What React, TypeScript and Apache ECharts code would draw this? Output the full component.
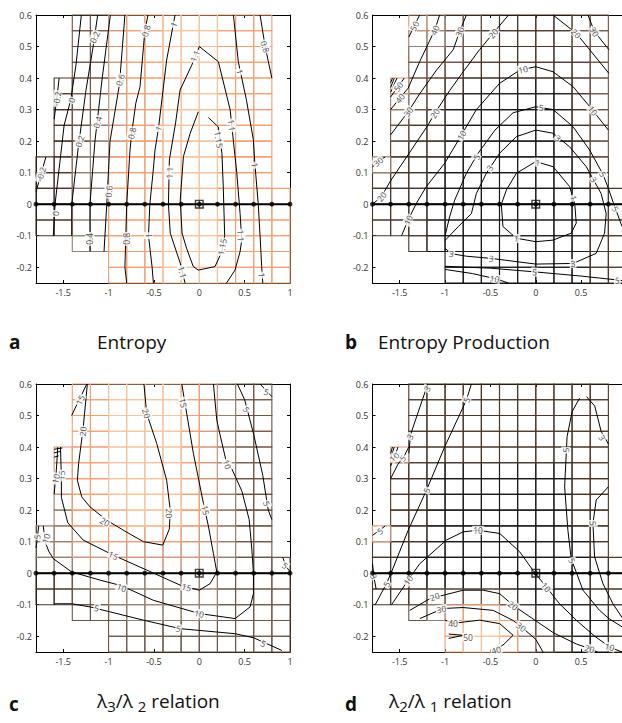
import React, { useEffect, useRef } from "react";
import * as echarts from "echarts";

// ---------- axes ----------
const X_MIN = -1.8;
const X_MAX = 1.0;
const Y_MIN = -0.25;
const Y_MAX = 0.6;
const X_TICKS = [-1.5, -1, -0.5, 0, 0.5, 1];
const X_LABELS_LEFT = [-1.5, -1, -0.5, 0, 0.5, 1];
const X_LABELS_RIGHT = [-1.5, -1, -0.5, 0, 0.5];
const Y_TICKS = [-0.2, -0.1, 0, 0.1, 0.2, 0.3, 0.4, 0.5, 0.6];
const CELL_W = 0.2;
const CELL_H = 0.05;
const NODE_X = [-1.8, -1.6, -1.4, -1.2, -1.0, -0.8, -0.6, -0.4, -0.2, 0, 0.2, 0.4, 0.6, 0.8, 1.0];
const CENTER_NODE = [0, 0];

// grid-line colour levels (dark -> light orange)
const LINE_COLORS = ["#1a1a1a", "#4a3528", "#6e5445", "#97806f", "#d2987a", "#f2a070", "#f7c29c"];

// cell colour levels, rows from y=0.6 downward, columns from x=-1.8 rightward ('.' = no cell)
const CELLS_A = [
  "..22455666555.", "..22455666555.", "..22455666555.", "..22455666555.",
  ".122455666555.", ".122455666555.", ".122455666555.",
  ".123455666555.", ".123455666555.",
  "1133555666555.", "1133555666555.",
  "11335556665555", "11335556665555", "11335556665555",
  "..335556665555", "....5556665555", "....5556665555",
];
const CELLS_B = [
  "..43221111122.", "..33221111122.", "..22211111112.", "..22111111112.",
  ".421100000012.", ".321000000012.", ".211000000012.", ".211000000012.", ".111000000012.",
  "3110000000001.", "1110000000001.",
  "11100000000011", "11100000000011", "11100000000011",
  "..100000000011", "....0000000011", "....0000000011",
];
const CELLS_C = [
  "..55666654322.", "..55666654322.", "..55666654322.", "..55666654322.",
  ".455666654322.", ".455666654322.", ".455666654322.",
  ".355666654322.", ".355566654322.",
  "3345555544322.", "3344444444322.",
  "33344444433222", "11233333332222", "11223333332222",
  "..222333332222", "....2222222222", "....2222222222",
];
const CELLS_D = [
  "..11111111111.", "..11111111111.", "..11111111111.", "..11111111111.",
  ".411111111111.", ".110000000011.", ".110000000011.", ".110000000011.", ".110000000011.",
  "4110000000001.", "1100000000001.",
  "11000000000011", "11000000000011", "11122221000011",
  "..234552100001", "....5665210001", "....5665321001",
];

// ---------- panel a: Entropy ----------
const A_M02_1 = [[-1.8, 0.04], [-1.75, 0.09], [-1.69, 0.15]];
const A_M02_2 = [[-1.6, 0.27], [-1.57, 0.335], [-1.545, 0.4]];
const A_0 = [[-1.609, -0.1], [-1.59, 0.0], [-1.53, 0.15], [-1.49, 0.25], [-1.418, 0.33], [-1.36, 0.44], [-1.3, 0.6]];
const A_02 = [[-1.406, -0.1], [-1.406, 0.0], [-1.334, 0.18], [-1.25, 0.36], [-1.17, 0.5], [-1.12, 0.6]];
const A_04 = [[-1.205, -0.15], [-1.205, 0.0], [-1.15, 0.2], [-1.07, 0.4], [-0.98, 0.6]];
const A_06 = [[-1.05, -0.15], [-1.02, 0.0], [-0.984, 0.2], [-0.88, 0.38], [-0.82, 0.6]];
const A_08 = [[-0.8, -0.25], [-0.82, -0.2], [-0.8, 0.0], [-0.764, 0.17], [-0.745, 0.225], [-0.7, 0.32], [-0.653, 0.373], [-0.6, 0.55], [-0.565, 0.6]];
const A_1L = [[-0.506, -0.25], [-0.52, -0.2], [-0.56, -0.1], [-0.545, 0], [-0.51, 0.1], [-0.488, 0.172], [-0.45, 0.24], [-0.36, 0.457], [-0.267, 0.6]];
const A_1R = [[0.376, 0.6], [0.43, 0.452], [0.52, 0.33], [0.596, 0.204], [0.614, 0.124], [0.65, 0.0], [0.67, -0.1], [0.688, -0.198], [0.7, -0.25]];
const A_08R = [[0.67, 0.6], [0.726, 0.5], [0.8, 0.4]];
const A_11 = [[0.3, -0.25], [0.394, -0.209], [0.45, -0.15], [0.468, -0.114], [0.45, -0.03], [0.413, 0.1], [0.376, 0.2], [0.34, 0.3], [0.21, 0.452], [0.0, 0.5], [-0.083, 0.441], [-0.212, 0.362], [-0.26, 0.26], [-0.33, 0.14], [-0.34, 0.0], [-0.32, -0.092], [-0.21, -0.187], [-0.157, -0.25]];
const A_115 = [[0.1, 0.275], [0.21, 0.245], [0.25, 0.16], [0.265, 0.05], [0.28, -0.1], [0.25, -0.15], [0.173, -0.198], [-0.011, -0.209], [-0.066, -0.198], [-0.14, -0.14], [-0.19, -0.092], [-0.21, 0.013], [-0.175, 0.151], [-0.1, 0.225], [-0.011, 0.293]];
const A_LINES = [A_M02_1, A_M02_2, A_0, A_02, A_04, A_06, A_08, A_1L, A_1R, A_08R, A_11, A_115];
const A_LABELS: [string, number, number, number][] = [
  ["-0.2", -1.745, 0.095, 74], ["-0.2", -1.57, 0.335, 80],
  ["0", -1.585, -0.03, 85], ["0", -1.41, 0.33, 72],
  ["0.2", -1.32, 0.2, 72], ["0.2", -1.155, 0.53, 66],
  ["0.4", -1.205, -0.11, 90], ["0.4", -1.125, 0.26, 75],
  ["0.6", -1.0, 0.04, 85], ["0.6", -0.874, 0.394, 75],
  ["0.8", -0.8, -0.11, 90], ["0.8", -0.745, 0.225, 76], ["0.8", -0.59, 0.55, 76],
  ["1", -0.45, 0.24, 70], ["1", -0.56, -0.1, 88], ["1", -0.285, 0.57, 66],
  ["1", 0.45, 0.42, -75], ["1", 0.614, 0.124, -80], ["1", 0.69, -0.225, -85],
  ["0.8", 0.726, 0.5, -72],
  ["1.1", -0.05, 0.47, 68], ["1.1", 0.358, 0.25, -84], ["1.1", -0.33, 0.1, 88], ["1.1", 0.46, -0.1, -88], ["1.1", -0.185, -0.215, -76],
  ["1.15", 0.215, 0.205, -80], ["1.15", 0.25, -0.135, 78],
];

// ---------- panel b: Entropy Production ----------
const B_50A = [[-1.6, 0.34], [-1.517, 0.373], [-1.45, 0.4]];
const B_50B = [[-1.4, 0.53], [-1.28, 0.6]];
const B_H1 = [[-1.6, 0.355], [-1.53, 0.4]];
const B_H2 = [[-1.6, 0.37], [-1.56, 0.4]];
const B_H3 = [[-1.6, 0.385], [-1.58, 0.4]];
const B_40 = [[-1.6, 0.3], [-1.5, 0.336], [-1.407, 0.368], [-1.28, 0.452], [-1.114, 0.552], [-1.06, 0.6]];
const B_30A = [[-1.8, 0.118], [-1.738, 0.135], [-1.66, 0.15]];
const B_30B = [[-1.6, 0.22], [-1.407, 0.293], [-1.28, 0.35], [-1.095, 0.425], [-0.91, 0.49], [-0.84, 0.547], [-0.765, 0.6]];
const B_20 = [[-1.8, 0.0], [-1.7, 0.024], [-1.61, 0.07], [-1.4, 0.16], [-1.19, 0.25], [-1.114, 0.288], [-0.95, 0.36], [-0.8, 0.42], [-0.62, 0.49], [-0.47, 0.542], [-0.3, 0.6]];
const B_20R = [[0.19, 0.6], [0.446, 0.542], [0.806, 0.415]];
const B_30R = [[0.574, 0.6], [0.648, 0.547], [0.806, 0.49]];
const B_10 = [[-1.48, -0.1], [-1.407, -0.05], [-1.316, 0.003], [-1.206, 0.056], [-1.004, 0.13], [-0.82, 0.219], [-0.655, 0.3], [-0.4, 0.383], [-0.178, 0.425], [0, 0.436], [0.19, 0.42], [0.41, 0.373], [0.593, 0.31], [0.8, 0.235]];
const B_5 = [[-1.0, -0.1], [-0.95, -0.04], [-0.894, 0.013], [-0.765, 0.098], [-0.637, 0.161], [-0.45, 0.235], [-0.25, 0.29], [0, 0.309], [0.19, 0.3], [0.41, 0.246], [0.593, 0.172], [0.74, 0.095], [0.8, 0.05], [0.86, 0.0], [0.95, -0.07], [1.0, -0.1]];
const B_3 = [[-1.0, -0.115], [-0.85, -0.07], [-0.71, -0.03], [-0.655, 0.034], [-0.545, 0.098], [-0.4, 0.161], [-0.215, 0.214], [0, 0.235], [0.19, 0.225], [0.373, 0.182], [0.556, 0.119], [0.72, 0.034], [0.776, -0.03], [0.758, -0.092], [0.666, -0.156], [0.41, -0.188], [0, -0.19], [-0.49, -0.172], [-0.765, -0.165], [-0.93, -0.157], [-1.0, -0.14]];
const B_1 = [[0, 0.135], [0.19, 0.119], [0.373, 0.056], [0.43, 0.0], [0.446, -0.06], [0.39, -0.092], [0.19, -0.114], [0, -0.119], [-0.214, -0.108], [-0.362, -0.071], [-0.38, 0], [-0.324, 0.045], [-0.214, 0.098], [0, 0.135]];
const B_5BOT = [[-1.0, -0.197], [-0.5, -0.203], [0, -0.215], [0.5, -0.228], [0.887, -0.24], [1.0, -0.244]];
const B_10BOT = [[-1.0, -0.207], [-0.7, -0.22], [-0.45, -0.236], [-0.3, -0.25]];
const B_LINES = [B_50A, B_50B, B_H1, B_H2, B_H3, B_40, B_30A, B_30B, B_20, B_20R, B_30R, B_10, B_5, B_3, B_1, B_5BOT, B_10BOT];
const B_LABELS: [string, number, number, number][] = [
  ["50", -1.517, 0.373, 54], ["50", -1.34, 0.565, 64],
  ["40", -1.5, 0.336, 51], ["40", -1.114, 0.552, 67],
  ["30", -1.738, 0.135, 38], ["30", -1.407, 0.293, 55], ["30", -0.84, 0.547, 69],
  ["20", -1.7, 0.024, 52], ["20", -1.114, 0.288, 58], ["20", -0.47, 0.542, 50],
  ["20", 0.446, 0.542, -46], ["30", 0.648, 0.547, -59],
  ["10", -1.407, -0.05, 65], ["10", -0.82, 0.219, 59], ["10", -0.14, 0.428, 12], ["10", 0.63, 0.297, -51],
  ["5", -0.655, 0.15, 60], ["5", 0.06, 0.307, -5], ["5", 0.74, 0.095, -64], ["5", 0.88, -0.015, -60],
  ["3", 0.245, 0.21, -39], ["3", -0.51, 0.115, 57], ["3", 0.64, 0.078, -58], ["3", 0.41, -0.188, 3], ["3", -0.49, -0.172, -7], ["3", -0.93, -0.157, -8],
  ["1", 0.02, 0.133, -5], ["1", 0.42, 0.02, -74], ["1", -0.214, -0.108, -10],
  ["5", -0.013, -0.215, -3], ["5", 0.9, -0.241, -3], ["10", -0.453, -0.236, -10],
];

// ---------- panel c: lambda3/lambda2 ----------
const C_15A = [[-1.407, 0.5], [-1.24, 0.6]];
const C_20 = [[-1.234, 0.6], [-1.28, 0.46], [-1.33, 0.348], [-1.344, 0.295], [-1.296, 0.242], [-1.204, 0.21], [-1.02, 0.168], [-0.8, 0.13], [-0.616, 0.1], [-0.403, 0.089], [-0.33, 0.14], [-0.32, 0.2], [-0.36, 0.295], [-0.47, 0.412], [-0.58, 0.507], [-0.61, 0.6]];
const C_15 = [[-1.53, 0.4], [-1.52, 0.3], [-1.52, 0.24], [-1.45, 0.16], [-1.28, 0.105], [-0.947, 0.057], [-0.58, 0.01], [-0.21, -0.038], [0, -0.054], [0.12, -0.033], [0.193, 0.004], [0.156, 0.062], [0.1, 0.15], [0.046, 0.221], [-0.065, 0.38], [-0.193, 0.6]];
const C_10 = [[-1.72, 0.15], [-1.7, 0.1], [-1.66, 0.07], [-1.609, 0.046], [-1.407, 0.004], [-1.094, -0.022], [-0.855, -0.04], [-0.506, -0.086], [0, -0.128], [0.395, -0.144], [0.56, -0.107], [0.597, -0.065], [0.597, 0.0], [0.58, 0.073], [0.55, 0.17], [0.47, 0.26], [0.36, 0.33], [0.3, 0.35], [0.22, 0.45], [0.193, 0.486], [0.156, 0.6]];
const C_10C1 = [[-1.6, 0.25], [-1.575, 0.33], [-1.56, 0.4]];
const C_H1 = [[-1.6, 0.393], [-1.51, 0.397]];
const C_H2 = [[-1.6, 0.382], [-1.53, 0.386]];
const C_H3 = [[-1.6, 0.368], [-1.55, 0.372]];
const C_5L = [[-1.77, 0.15], [-1.79, 0.1], [-1.8, 0.08]];
const C_5R = [[0.42, 0.6], [0.5, 0.55], [0.6, 0.44], [0.7, 0.31], [0.76, 0.2], [0.8, 0.17]];
const C_5TR = [[0.67, 0.6], [0.8, 0.56]];
const C_5E = [[0.92, 0.05], [0.96, 0.02], [1.0, 0.005]];
const C_5B = [[-1.6, -0.097], [-1.407, -0.097], [-1.204, -0.107], [-0.616, -0.149], [-0.21, -0.176], [0.395, -0.192], [0.6, -0.205], [0.91, -0.245]];
const C_LINES = [C_15A, C_20, C_15, C_10, C_10C1, C_H1, C_H2, C_H3, C_5L, C_5R, C_5TR, C_5E, C_5B];
const C_LABELS: [string, number, number, number][] = [
  ["15", -1.315, 0.55, 64],
  ["20", -1.285, 0.45, 84], ["20", -1.04, 0.163, -30], ["20", -0.33, 0.19, -88], ["20", -0.58, 0.507, -72],
  ["15", -0.947, 0.057, -25], ["15", -0.14, -0.044, -15], ["15", 0.07, 0.2, -79], ["15", -0.175, 0.54, -80], ["15", -1.52, 0.31, 88],
  ["10", -1.69, 0.11, 72], ["10", -1.585, 0.3, 75], ["10", -0.855, -0.045, -21], ["10", 0.0, -0.128, -12], ["10", 0.31, 0.345, -70],
  ["5", 0.52, 0.52, -60], ["5", 0.744, 0.221, -75], ["5", 0.74, 0.575, -20], ["5", 0.946, 0.025, -40],
  ["5", -1.13, -0.11, -14], ["5", -0.23, -0.175, -13], ["5", 0.707, -0.222, -24], ["5", -1.79, 0.115, 80],
];

// ---------- panel d: lambda2/lambda1 ----------
const D_5L = [[-1.77, -0.1], [-1.646, -0.033], [-1.59, 0.004], [-1.407, 0.136], [-1.205, 0.263], [-1.004, 0.401], [-0.765, 0.549], [-0.71, 0.6]];
const D_3A = [[-1.4, 0.38], [-1.38, 0.44], [-1.25, 0.55], [-1.19, 0.6]];
const D_C1_5 = [[-1.6, 0.3], [-1.52, 0.345], [-1.444, 0.375], [-1.4, 0.4]];
const D_C1_10 = [[-1.6, 0.34], [-1.554, 0.369], [-1.52, 0.4]];
const D_C1_H1 = [[-1.6, 0.365], [-1.56, 0.4]];
const D_C1_H2 = [[-1.6, 0.38], [-1.58, 0.4]];
const D_C0 = [[-1.8, 0.12], [-1.727, 0.135], [-1.66, 0.15]];
const D_3L = [[-1.8, 0.03], [-1.78, -0.02], [-1.76, -0.05]];
const D_10 = [[-1.59, -0.1], [-1.407, -0.022], [-1.279, 0.03], [-0.985, 0.105], [-0.8, 0.131], [-0.637, 0.136], [-0.398, 0.126], [-0.178, 0.068], [-0.031, 0.009], [0.116, -0.044], [0.262, -0.097], [0.45, -0.15], [0.65, -0.2], [0.813, -0.234], [0.95, -0.25]];
const D_20 = [[-1.389, -0.118], [-1.169, -0.081], [-0.8, -0.054], [-0.58, -0.054], [-0.398, -0.065], [-0.25, -0.102], [-0.031, -0.145], [0.2, -0.19], [0.45, -0.225], [0.593, -0.239], [0.68, -0.25]];
const D_30 = [[-1.279, -0.144], [-1.022, -0.112], [-0.8, -0.109], [-0.47, -0.118], [-0.25, -0.15], [-0.16, -0.17], [0.0, -0.21], [0.08, -0.25]];
const D_40 = [[-1.0, -0.149], [-0.912, -0.159], [-0.618, -0.149], [-0.398, -0.16], [-0.25, -0.197], [-0.35, -0.225], [-0.47, -0.25]];
const D_50 = [[-0.96, -0.193], [-0.8, -0.197], [-0.96, -0.207]];
const D_5R1 = [[0.483, 0.555], [0.4, 0.512], [0.345, 0.433], [0.318, 0.274], [0.354, 0.136], [0.39, 0.046], [0.52, -0.054], [0.703, -0.118], [0.806, -0.144], [0.95, -0.17], [1.0, -0.18]];
const D_3R = [[0.56, 0.56], [0.65, 0.53], [0.72, 0.45], [0.8, 0.41]];
const D_5R2 = [[0.8, 0.274], [0.666, 0.232], [0.63, 0.158], [0.648, 0.052], [0.74, -0.033], [0.85, -0.097], [0.95, -0.14], [1.0, -0.155]];
const D_LINES = [D_5L, D_3A, D_C1_5, D_C1_10, D_C1_H1, D_C1_H2, D_C0, D_3L, D_10, D_20, D_30, D_40, D_50, D_5R1, D_3R, D_5R2];
const D_LABELS: [string, number, number, number][] = [
  ["5", -1.646, -0.035, 60], ["5", -1.205, 0.263, 66], ["5", -0.765, 0.55, 67],
  ["3", -1.389, 0.433, 62], ["3", -1.2, 0.585, 60],
  ["5", -1.47, 0.365, 45], ["10", -1.56, 0.368, 45], ["5", -1.72, 0.134, 37], ["3", -1.785, -0.01, -70],
  ["10", -1.407, -0.022, 55], ["10", -0.637, 0.136, 0], ["10", 0.116, -0.044, -51], ["10", 0.813, -0.234, -15],
  ["20", -1.114, -0.074, 20], ["20", -0.25, -0.102, -37], ["20", 0.593, -0.239, -15],
  ["30", -1.04, -0.114, 10], ["30", -0.16, -0.17, -35],
  ["40", -0.912, -0.159, 0], ["40", -0.437, -0.243, 15], ["50", -0.747, -0.203, 0],
  ["5", 0.33, 0.39, 87], ["5", 0.4, 0.04, -70], ["3", 0.733, 0.43, -60], ["5", 0.632, 0.158, -88],
];

// ---------- titles ----------
const TITLE_LETTERS = ["a", "b", "c", "d"];
const TITLE_TEXTS = ["Entropy", "Entropy Production"];

const PANELS = [
  { cells: CELLS_A, lines: A_LINES, labels: A_LABELS, xLabels: X_LABELS_LEFT },
  { cells: CELLS_B, lines: B_LINES, labels: B_LABELS, xLabels: X_LABELS_RIGHT },
  { cells: CELLS_C, lines: C_LINES, labels: C_LABELS, xLabels: X_LABELS_LEFT },
  { cells: CELLS_D, lines: D_LINES, labels: D_LABELS, xLabels: X_LABELS_RIGHT },
];

const GRIDS = [
  { left: 36, top: 15, width: 254, height: 268 },
  { left: 372.5, top: 15, width: 254, height: 268 },
  { left: 36, top: 384, width: 254, height: 268 },
  { left: 372.5, top: 384, width: 254, height: 268 },
];

const FONT = "Open Sans";
const CENTER_SYMBOL =
  "path://M0,0H10V10H0Z M1.6,1.6V4.4H4.4V1.6Z M5.6,1.6V4.4H8.4V1.6Z M1.6,5.6V8.4H4.4V5.6Z M5.6,5.6V8.4H8.4V5.6Z";

function buildOption() {
  const xAxis: any[] = [];
  const yAxis: any[] = [];
  const series: any[] = [];
  const lineStyle = { color: "#000", width: 1 };

  PANELS.forEach((p, g) => {
    xAxis.push({
      gridIndex: g, type: "value", min: X_MIN, max: X_MAX, position: "bottom",
      axisLine: { show: true, onZero: false, lineStyle },
      axisTick: { show: true, inside: true, length: 3, customValues: X_TICKS, lineStyle },
      axisLabel: { show: true, customValues: p.xLabels, fontSize: 9, color: "#333", margin: 5, fontFamily: FONT },
      splitLine: { show: false },
    });
    xAxis.push({
      gridIndex: g, type: "value", min: X_MIN, max: X_MAX, position: "top",
      axisLine: { show: true, onZero: false, lineStyle },
      axisTick: { show: true, inside: true, length: 3, customValues: X_TICKS, lineStyle },
      axisLabel: { show: false },
      splitLine: { show: false },
    });
    yAxis.push({
      gridIndex: g, type: "value", min: Y_MIN, max: Y_MAX, position: "left",
      axisLine: { show: true, onZero: false, lineStyle },
      axisTick: { show: true, inside: true, length: 3, customValues: Y_TICKS, lineStyle },
      axisLabel: { show: true, customValues: Y_TICKS, fontSize: 9, color: "#333", margin: 4, fontFamily: FONT },
      splitLine: { show: false },
    });
    yAxis.push({
      gridIndex: g, type: "value", min: Y_MIN, max: Y_MAX, position: "right",
      axisLine: { show: true, onZero: false, lineStyle },
      axisTick: { show: true, inside: true, length: 3, customValues: Y_TICKS, lineStyle },
      axisLabel: { show: false },
      splitLine: { show: false },
    });

    const xi = 2 * g;
    const yi = 2 * g;

    const cellData: number[][] = [];
    p.cells.forEach((row, r) => {
      for (let c = 0; c < row.length; c++) {
        const ch = row[c];
        if (ch !== ".") cellData.push([X_MIN + c * CELL_W, Y_MAX - r * CELL_H, Number(ch)]);
      }
    });
    cellData.sort((a, b) => a[2] - b[2]);
    series.push({
      type: "custom", xAxisIndex: xi, yAxisIndex: yi, data: cellData, silent: true, z: 1,
      renderItem: (params: any, api: any) => {
        const x0 = api.value(0);
        const y0 = api.value(1);
        const lv = api.value(2);
        const p1 = api.coord([x0, y0]);
        const p2 = api.coord([x0 + CELL_W, y0 - CELL_H]);
        return {
          type: "rect",
          shape: { x: p1[0], y: p1[1], width: p2[0] - p1[0], height: p2[1] - p1[1] },
          style: { fill: "none", stroke: LINE_COLORS[lv], lineWidth: 1.1 },
        };
      },
    });

    p.lines.forEach((pts) => {
      series.push({
        type: "line", xAxisIndex: xi, yAxisIndex: yi, data: pts, showSymbol: false, symbol: "none",
        lineStyle: { color: "#000", width: 1 }, z: 3, silent: true,
      });
    });

    series.push({
      type: "scatter", xAxisIndex: xi, yAxisIndex: yi, symbolSize: 1, z: 4, silent: true,
      itemStyle: { color: "rgba(0,0,0,0)" },
      data: p.labels.map(([t, x, y, rot]) => ({
        value: [x, y],
        label: {
          show: true, formatter: t, rotate: rot, position: "inside", fontSize: 8.5, fontFamily: FONT,
          color: "#222", backgroundColor: "#fff", padding: [0, 1], lineHeight: 9,
        },
      })),
    });

    series.push({
      type: "line", xAxisIndex: xi, yAxisIndex: yi, data: [[X_MIN, 0], [X_MAX, 0]], showSymbol: false,
      symbol: "none", lineStyle: { color: "#000", width: 2 }, z: 5, silent: true,
    });
    series.push({
      type: "scatter", xAxisIndex: xi, yAxisIndex: yi, data: NODE_X.map((x) => [x, 0]), symbolSize: 5,
      itemStyle: { color: "#000" }, z: 6, silent: true,
    });
    series.push({
      type: "scatter", xAxisIndex: xi, yAxisIndex: yi, data: [CENTER_NODE], symbol: CENTER_SYMBOL, symbolSize: 9,
      itemStyle: { color: "#111" }, z: 7, silent: true,
    });
  });

  const bold = { fontSize: 19, fontWeight: "bold", fontFamily: FONT, fill: "#111", verticalAlign: "middle" };
  const norm = { fontSize: 19, fontFamily: FONT, fill: "#111", verticalAlign: "middle" };
  const rich = {
    n: { fontSize: 19, fontFamily: FONT, color: "#111", verticalAlign: "top" },
    s: { fontSize: 15, fontFamily: FONT, color: "#111", verticalAlign: "top", padding: [7, 0, 0, 0] },
  };

  const graphic = [
    { type: "text", x: 9, y: 342, style: { ...bold, text: TITLE_LETTERS[0] } },
    { type: "text", x: 97, y: 342, style: { ...norm, text: TITLE_TEXTS[0] } },
    { type: "text", x: 345, y: 342, style: { ...bold, text: TITLE_LETTERS[1] } },
    { type: "text", x: 378, y: 342, style: { ...norm, text: TITLE_TEXTS[1] } },
    { type: "text", x: 9, y: 704, style: { ...bold, text: TITLE_LETTERS[2] } },
    { type: "text", x: 97, y: 691, style: { text: "{n|λ}{s|3}{n|/λ }{s|2}{n| relation}", rich, fill: "#111" } },
    { type: "text", x: 345, y: 704, style: { ...bold, text: TITLE_LETTERS[3] } },
    { type: "text", x: 389, y: 691, style: { text: "{n|λ}{s|2}{n|/λ }{s|1}{n| relation}", rich, fill: "#111" } },
  ];

  return {
    animation: false,
    backgroundColor: "#fff",
    grid: GRIDS,
    xAxis,
    yAxis,
    series,
    graphic,
  };
}

export default function App() {
  const ref = useRef<HTMLDivElement>(null);
  useEffect(() => {
    if (!ref.current) return;
    const chart = echarts.init(ref.current, null, { renderer: "svg" });
    chart.setOption(buildOption() as any);
    return () => chart.dispose();
  }, []);
  return (
    <div
      style={{ position: "absolute", left: 0, top: 0, width: 622, height: 723, overflow: "hidden", background: "#fff" }}
    >
      <div ref={ref} style={{ width: 640, height: 723 }} />
    </div>
  );
}
